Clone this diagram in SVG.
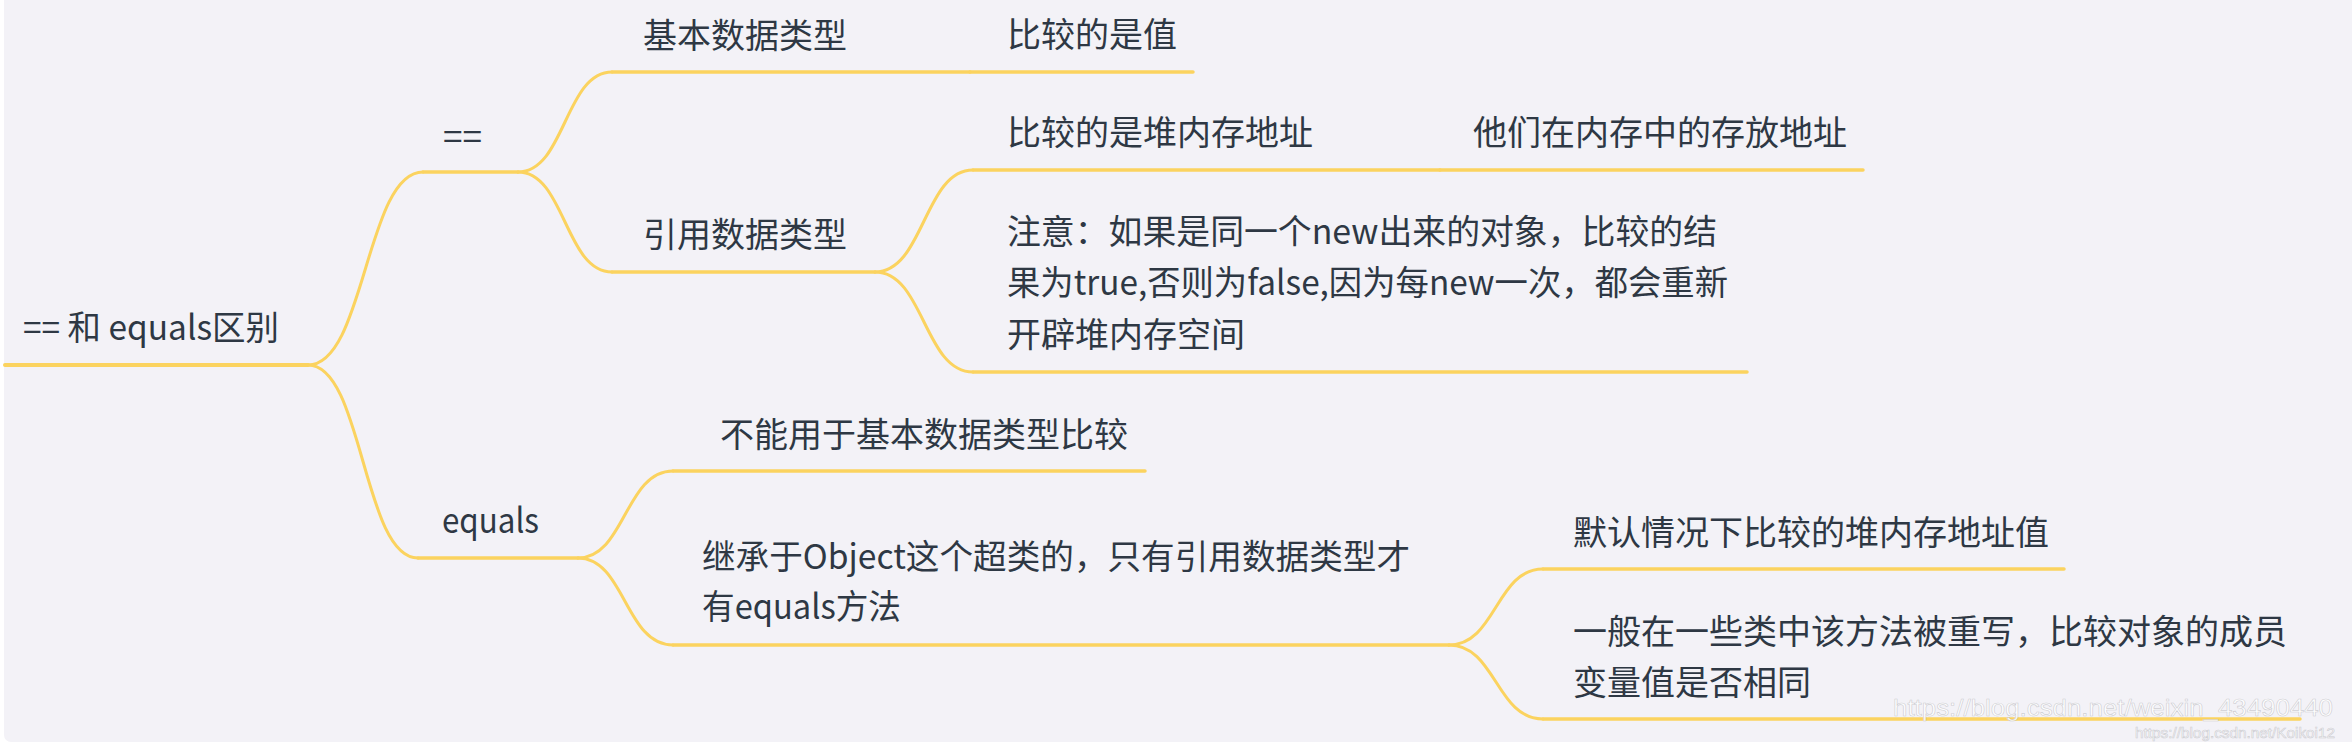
<svg xmlns="http://www.w3.org/2000/svg" width="2352" height="750" viewBox="0 0 2352 750">
  <style>
    .t { font-family: "Noto Sans CJK SC", "Noto Sans", sans-serif; font-size: 34px; fill: #2e3844; }
    .ln { fill: none; stroke: #fbd35f; stroke-width: 3.5; stroke-linecap: round; }
    .cv { fill: none; stroke: #fbd35f; stroke-width: 3; stroke-linecap: round; }
    .wm { font-family: "Liberation Sans", Arial, sans-serif; fill: #ffffff; fill-opacity: 0.9; stroke: #b9b9c0; stroke-width: 0.6; stroke-opacity: 0.7; }
  </style>
  <rect x="0" y="0" width="2352" height="750" fill="#ffffff"/>
  <rect x="4" y="-10" width="2360" height="752" rx="7" fill="#f3f2f7"/>

  <g id="connectors">
    <path class="ln" d="M5,365 H308" style="stroke-width:4"/>
    <path class="cv" d="M308,365 C365,365 366,172 423,172"/>
    <path class="ln" d="M423,172 H518"/>
    <path class="cv" d="M308,365 C363,365 363,558 418,558"/>
    <path class="ln" d="M418,558 H578"/>

    <path class="cv" d="M518,172 C565,172 565,72 612,72"/>
    <path class="ln" d="M612,72 H970"/>
    <path class="ln" d="M970,72 H1193"/>
    <path class="cv" d="M518,172 C565,172 565,272 612,272"/>
    <path class="ln" d="M612,272 H875"/>

    <path class="cv" d="M875,272 C924,272 924,170 973,170"/>
    <path class="ln" d="M973,170 H1440"/>
    <path class="ln" d="M1440,170 H1863"/>
    <path class="cv" d="M875,272 C924,272 924,372 973,372"/>
    <path class="ln" d="M973,372 H1747"/>

    <path class="cv" d="M578,558 C625,558 625,471 673,471"/>
    <path class="ln" d="M673,471 H1145"/>
    <path class="cv" d="M578,558 C625,558 625,645 673,645"/>
    <path class="ln" d="M673,645 H1449"/>

    <path class="cv" d="M1449,645 C1496,645 1496,569 1543,569"/>
    <path class="ln" d="M1543,569 H2064"/>
    <path class="cv" d="M1449,645 C1496,645 1496,719 1543,719"/>
    <path class="ln" d="M1543,719 H2300"/>
  </g>

  <g id="node-root">
    <text class="t" x="23" y="340" textLength="256" lengthAdjust="spacingAndGlyphs">== 和 equals区别</text>
  </g>
  <g id="node-eq">
    <text class="t" x="443" y="149" textLength="39" lengthAdjust="spacingAndGlyphs">==</text>
  </g>
  <g id="node-equals">
    <text class="t" x="442" y="533" textLength="97" lengthAdjust="spacingAndGlyphs">equals</text>
  </g>
  <g id="node-basic">
    <text class="t" x="643" y="48" textLength="204" lengthAdjust="spacingAndGlyphs">基本数据类型</text>
  </g>
  <g id="node-basic-value">
    <text class="t" x="1007" y="47" textLength="170" lengthAdjust="spacingAndGlyphs">比较的是值</text>
  </g>
  <g id="node-ref">
    <text class="t" x="643" y="247" textLength="204" lengthAdjust="spacingAndGlyphs">引用数据类型</text>
  </g>
  <g id="node-ref-addr">
    <text class="t" x="1007" y="145" textLength="306" lengthAdjust="spacingAndGlyphs">比较的是堆内存地址</text>
  </g>
  <g id="node-ref-addr-note">
    <text class="t" x="1473" y="145" textLength="374" lengthAdjust="spacingAndGlyphs">他们在内存中的存放地址</text>
  </g>
  <g id="node-ref-note">
    <text class="t" x="1007" y="244" textLength="710" lengthAdjust="spacingAndGlyphs">注意：如果是同一个new出来的对象，比较的结</text>
    <text class="t" x="1007" y="295" textLength="721" lengthAdjust="spacingAndGlyphs">果为true,否则为false,因为每new一次，都会重新</text>
    <text class="t" x="1007" y="347" textLength="238" lengthAdjust="spacingAndGlyphs">开辟堆内存空间</text>
  </g>
  <g id="node-equals-nobasic">
    <text class="t" x="720" y="447" textLength="408" lengthAdjust="spacingAndGlyphs">不能用于基本数据类型比较</text>
  </g>
  <g id="node-equals-object">
    <text class="t" x="702" y="569" textLength="708" lengthAdjust="spacingAndGlyphs">继承于Object这个超类的，只有引用数据类型才</text>
    <text class="t" x="702" y="619" textLength="199" lengthAdjust="spacingAndGlyphs">有equals方法</text>
  </g>
  <g id="node-default">
    <text class="t" x="1573" y="545" textLength="476" lengthAdjust="spacingAndGlyphs">默认情况下比较的堆内存地址值</text>
  </g>
  <g id="node-override">
    <text class="t" x="1573" y="644" textLength="714" lengthAdjust="spacingAndGlyphs">一般在一些类中该方法被重写，比较对象的成员</text>
    <text class="t" x="1573" y="695" textLength="238" lengthAdjust="spacingAndGlyphs">变量值是否相同</text>
  </g>

  <g id="watermark">
    <text class="wm" x="1893" y="716" font-size="24" textLength="440" lengthAdjust="spacingAndGlyphs">https://blog.csdn.net/weixin_43490440</text>
    <text class="wm" x="2135" y="738" font-size="14" textLength="200" lengthAdjust="spacingAndGlyphs">https://blog.csdn.net/Koikoi12</text>
  </g>
</svg>
